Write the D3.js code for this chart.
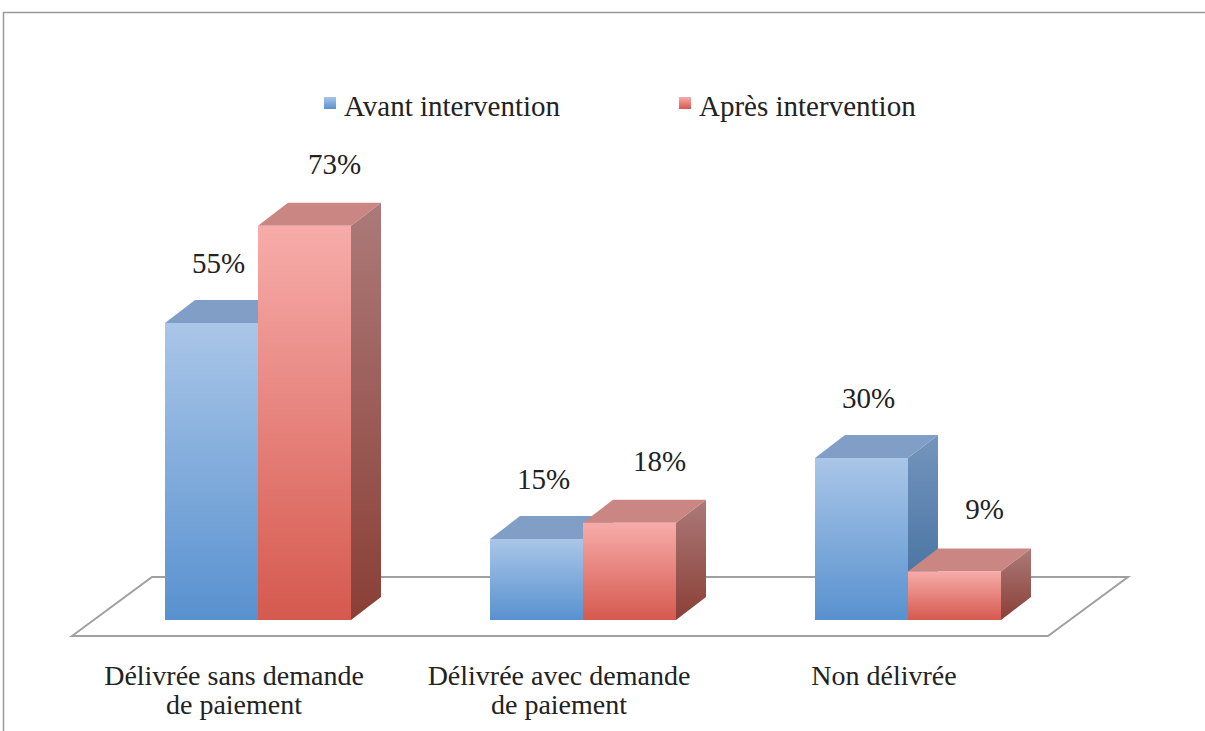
<!DOCTYPE html>
<html>
<head>
<meta charset="utf-8">
<script src="https://cdn.jsdelivr.net/npm/d3@7"></script>
<style>
  body { margin: 0; background: #fff; }
  svg text { font-family: "Liberation Serif", serif; fill: #222; }
</style>
</head>
<body>
<div id="chart"></div>
<script>
// données
const categories = [["Délivrée sans demande", "de paiement"], ["Délivrée avec demande", "de paiement"], ["Non délivrée"]];
const seriesNames = ["Avant intervention", "Après intervention"];
const avant = [55, 15, 30];
const apres = [73, 18, 9];

const W = 1205, H = 731;
const svg = d3.select("#chart").append("svg").attr("width", W).attr("height", H);

// cadre
svg.append("path").attr("d", `M3.5,${H} V12.5 H${W}`).attr("fill", "none").attr("stroke", "#9a9a9a").attr("stroke-width", 1.5);

const catKeys = categories.map(c => c.join(" "));
const x = d3.scaleBand().domain(catKeys).range([95.5, 1070.5]).padding(0);
const xs = d3.scaleBand().domain(seriesNames).range([0, 186]);
const y = d3.scaleLinear().domain([0, 80]).range([620, 188]);

const dx = 30, dy = -23; // profondeur des barres

// dégradés
const defs = svg.append("defs");
function grad(id, c1, c2) {
  const g = defs.append("linearGradient").attr("id", id).attr("x1", 0).attr("y1", 0).attr("x2", 0).attr("y2", 1);
  g.append("stop").attr("offset", "0%").attr("stop-color", c1);
  g.append("stop").attr("offset", "100%").attr("stop-color", c2);
}
grad("bFront", "#aac6e8", "#5891cf");
grad("bSide", "#7495bd", "#3e6b9c");
grad("rFront", "#f7acaa", "#d5594e");
grad("rSide", "#ac7a79", "#8a3f36");
const styles = {
  "Avant intervention": { front: "url(#bFront)", side: "url(#bSide)", top: "#819fc6", leg: "url(#bFront)" },
  "Après intervention": { front: "url(#rFront)", side: "url(#rSide)", top: "#c98683", leg: "url(#rFront)" }
};

// sol
const x0 = x.range()[0], x1 = x.range()[1];
const fy = y(0) + 16, by = y(0) - 43;
svg.append("path")
  .attr("d", `M${x0 - 23.5},${fy} L${x0 + 56.5},${by} L${x1 + 57.5},${by} L${x1 - 22.5},${fy} Z`)
  .attr("fill", "#fff").attr("stroke", "#a0a0a0").attr("stroke-width", 2);

const data = [avant, apres];
const labelOff = [{ dx: 7, dy: -50 }, { dx: 30, dy: -52 }];

seriesNames.forEach((s, si) => {
  const st = styles[s];
  const g = svg.append("g");
  catKeys.forEach((c, ci) => {
    const v = data[si][ci];
    const left = x(c) + x.bandwidth() / 2 - 93 + xs(s);
    const right = left + xs.bandwidth();
    const top = y(v), bot = y(0);
    g.append("path").attr("d", `M${right},${top} L${right + dx},${top + dy} L${right + dx},${bot + dy} L${right},${bot} Z`).attr("fill", st.side);
    g.append("path").attr("d", `M${left},${top} L${left + dx},${top + dy} L${right + dx},${top + dy} L${right},${top} Z`).attr("fill", st.top);
    g.append("rect").attr("x", left).attr("y", top).attr("width", right - left).attr("height", bot - top).attr("fill", st.front);
    svg.append("text").attr("x", (left + right) / 2 + labelOff[si].dx).attr("y", top + labelOff[si].dy)
      .attr("text-anchor", "middle").style("font-size", "29px").text(v + "%");
  });
});

// étiquettes des catégories
categories.forEach((lines, ci) => {
  const t = svg.append("text").attr("text-anchor", "middle").style("font-size", "28px");
  lines.forEach((l, li) => {
    t.append("tspan").attr("x", x(catKeys[ci]) + x.bandwidth() / 2 - 24).attr("y", 685 + li * 29).text(l);
  });
});

// légende
const legX = [324, 679];
seriesNames.forEach((s, i) => {
  svg.append("rect").attr("x", legX[i]).attr("y", 97).attr("width", 12).attr("height", 12).attr("fill", styles[s].leg);
  svg.append("text").attr("x", legX[i] + 20).attr("y", 116).style("font-size", "29px").text(s);
});
</script>
</body>
</html>
